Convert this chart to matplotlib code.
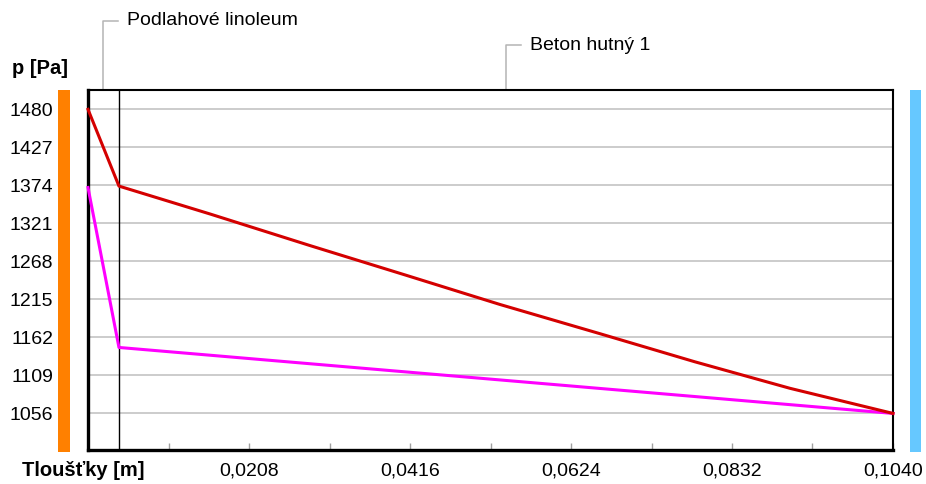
import numpy as np
import matplotlib
matplotlib.use("Agg")
import matplotlib.pyplot as plt
from matplotlib.patches import Rectangle
from matplotlib.transforms import blended_transform_factory

plt.rcParams['font.family'] = ['Liberation Sans', 'DejaVu Sans']

# layer boundaries [m] and names
layer_edges = [0.0, 0.004, 0.104]
layer_names = ["Podlahové linoleum", "Beton hutný 1"]

# saturated vapour pressure through the construction
psat_x = [0.0, 0.004, 0.0158, 0.0287, 0.0410, 0.0532, 0.0662, 0.0784, 0.0907, 0.104]
psat_y = [1480, 1373, 1334, 1290, 1249, 1208, 1167, 1128, 1091, 1056]

# partial vapour pressure
p_x = [0.0, 0.004, 0.104]
p_y = [1371, 1148, 1056]

yticks = [1480, 1427, 1374, 1321, 1268, 1215, 1162, 1109, 1056]
xticks = [0.0104 * k for k in range(1, 11)]

W, H = 926, 484
fig = plt.figure(figsize=(W / 100, H / 100), dpi=100)
ax = fig.add_axes([88 / W, 1 - 450 / H, (893 - 88) / W, (450 - 90) / H])

ax.set_xlim(0, 0.104)
ax.set_ylim(1005, 1507)

for y in yticks:
    ax.axhline(y, color='#c8c8c8', lw=1.3, zorder=1)

ax.axvline(layer_edges[1], color='black', lw=1.0, zorder=2)

ax.plot(psat_x, psat_y, color='#d40000', lw=2.2, zorder=4, clip_on=False,
        solid_joinstyle='round')
ax.plot(p_x, p_y, color='#ff00ff', lw=2.2, zorder=3, clip_on=False,
        solid_joinstyle='round')

ax.set_yticks(yticks)
ax.set_yticklabels([str(v) for v in yticks])
ax.tick_params(axis='y', length=0, pad=25, labelsize=14)

ax.set_xticks(xticks)
ax.set_xticklabels([("%.4f" % v).replace('.', ',') if k % 2 == 1 else ''
                    for k, v in enumerate(xticks)])
ax.tick_params(axis='x', direction='in', length=5, width=1, color='#a0a0a0',
               pad=9, labelsize=14)

for side in ['left', 'bottom']:
    ax.spines[side].set_linewidth(2.4)
for side in ['top', 'right']:
    ax.spines[side].set_linewidth(1.5)

# layer name callouts above the plot
tr = blended_transform_factory(ax.transData, ax.transAxes)
label_y = [1.193, 1.125]
for i, name in enumerate(layer_names):
    xm = (layer_edges[i] + layer_edges[i + 1]) / 2
    ya = label_y[i]
    ax.plot([xm, xm, xm + 0.0019], [1.0, ya, ya], color='#b4b4b4', lw=1.1,
            transform=tr, clip_on=False)
    ax.text(xm + 0.0031, ya, name, transform=tr, fontsize=14,
            va='center', ha='left')

# axis titles
fig.text(12 / W, 1 - 68 / H, "p [Pa]", fontsize=14.5, fontweight='bold',
         va='center', ha='left')
fig.text(22 / W, 1 - 470 / H, "Tloušťky [m]", fontsize=14.5, fontweight='bold',
         va='center', ha='left')

# surface colour bars on both sides
fig.add_artist(Rectangle((58 / W, 1 - 452 / H), 12 / W, 362 / H,
                         transform=fig.transFigure, color='#ff8000', lw=0))
fig.add_artist(Rectangle((910 / W, 1 - 452 / H), 11 / W, 362 / H,
                         transform=fig.transFigure, color='#66c8ff', lw=0))

fig.savefig("out.png", dpi=100)
